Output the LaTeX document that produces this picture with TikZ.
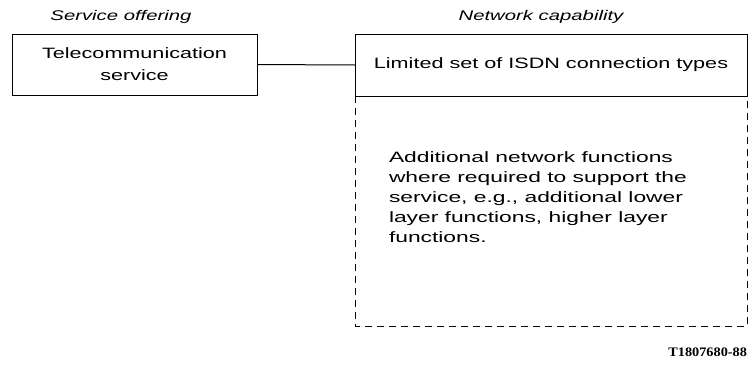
\documentclass[tikz,border=0pt]{standalone}
\usepackage{fontspec}
\setmainfont{Liberation Sans}
\newfontfamily\widefont[FakeStretch=1.44]{Liberation Sans}
\newfontfamily\widerfont[FakeStretch=1.52]{Liberation Sans}
\newfontfamily\headfont[FakeStretch=1.45]{Liberation Sans}
\newfontfamily\codefont[FakeStretch=1.1]{Liberation Serif}
\begin{document}
\begin{tikzpicture}[x=1pt,y=-1pt,
  every node/.style={inner sep=0pt, outer sep=0pt},
  boxline/.style={draw=black, line width=1pt},
  dashline/.style={draw=black, line width=1pt, dash pattern=on 7pt off 5pt},
  txt/.style={font=\widefont\fontsize{15}{22}\selectfont},
  addtxt/.style={font=\widerfont\fontsize{15}{20}\selectfont},
  head/.style={font=\headfont\fontsize{14}{16}\selectfont\itshape}]
\useasboundingbox (0,0) rectangle (749,365);
\node[head] (hs) at (121,17) {Service offering};
\node[head] (hn) at (541,17) {Network capability};
\node[boxline, txt, minimum width=245pt, minimum height=61pt, align=center] (tele) at (134.5,64.5) {Telecommunication\\service};
\node[boxline, txt, minimum width=392pt, minimum height=62pt] (isdn) at (551,65) {Limited set of ISDN connection types};
\coordinate (dtl) at (isdn.south west);
\coordinate (dtr) at (isdn.south east);
\coordinate (dbl) at (355,326);
\coordinate (dbr) at (747,326);
\draw[dashline] (dtl) -- (dbl) -- (dbr) -- (dtr);
\draw[boxline] (tele.east) -- (isdn.west);
\node[addtxt, anchor=north west, align=left] (add) at (389,152) {Additional network functions\\where required to support the\\service, e.g., additional lower\\layer functions, higher layer\\functions.};
\node[font=\codefont\bfseries\fontsize{13}{15}\selectfont, anchor=east] (code) at (747,352) {T1807680-88};
\end{tikzpicture}
\end{document}
